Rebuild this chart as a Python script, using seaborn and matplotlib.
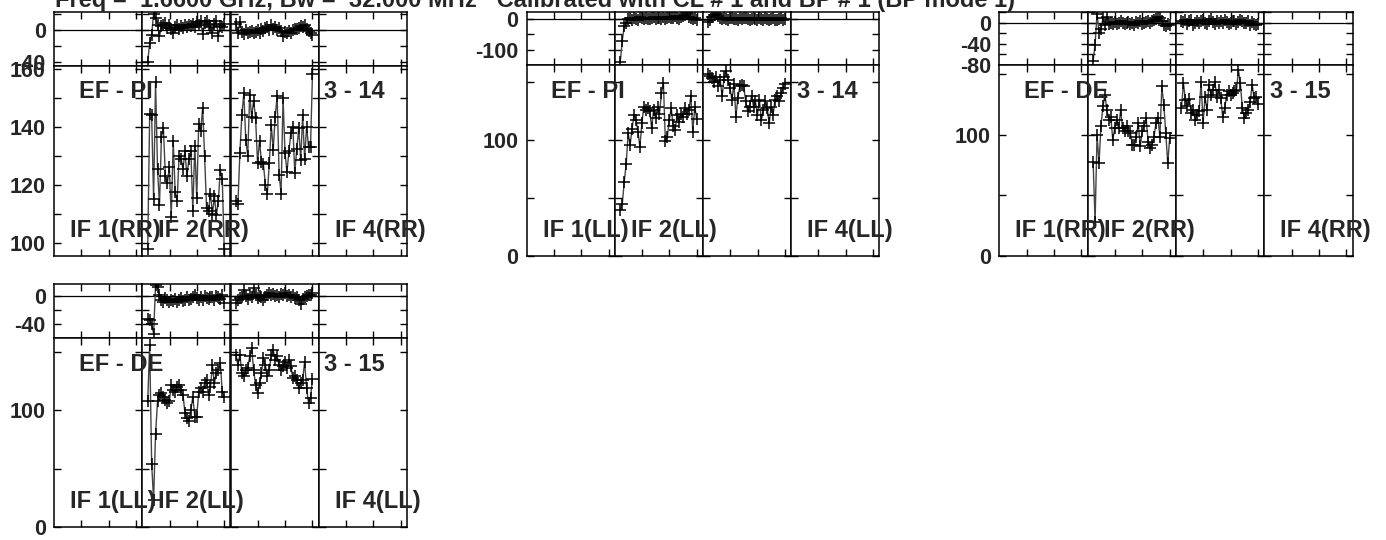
import numpy as np
import matplotlib
matplotlib.use("Agg")
import matplotlib.pyplot as plt
import seaborn as sns
from matplotlib.ticker import MultipleLocator, FixedLocator, FuncFormatter

# ---------------- data ----------------
title = "Freq =  1.6600 GHz, Bw =  32.000 MHz   Calibrated with CL # 1 and BP # 1 (BP mode 1)"
if_names = ["IF 1", "IF 2", "IF 3", "IF 4"]
channels = np.linspace(4, 60, 40)

# EF - PI, RR (3 - 14)
pi_rr_if2_amp = [98, 144.5, 144, 115, 155.5, 125.5, 113, 136.5, 139.5, 123, 120.5, 126, 109, 135, 117.5, 114.5,
                 130, 129, 125.5, 131.5, 123, 129, 131.5, 111, 133.5, 115.5, 141, 138.5, 146.5, 130, 112, 111,
                 117, 110, 116, 109.5, 114.5, 125, 122, 98]
pi_rr_if3_amp = [114.5, 113.5, 131, 144, 151.5, 135.5, 130, 151, 143.5, 149, 143, 127.5, 135, 128, 127, 120,
                 117, 127.5, 140.5, 132, 143.5, 150.5, 123.5, 117, 150, 131, 124.5, 131.5, 138, 140, 124, 132.5,
                 139.5, 128.5, 144, 129, 140, 133, 133, 158]
pi_rr_if2_phs = [-40, -16, -6, 21, 15, 7, -8, 5, 7, 9, 3, 6, 2, -3, 4, 6, 1, 5, 3, 6, 4, 7, 5, 8, 4, 10, 6, 12,
                 -5, 9, 12, 7, 4, -3, 8, 11, -8, 5, 4, 8]
pi_rr_if3_phs = [8, -3, 10, -2, -5, 0, -4, -2, -1, -4, -2, 0, -3, 2, -1, 3, 4, 0, 6, 2, 4, 0, 3, -1, -7, -2,
                 -4, -1, -3, 0, 1, 2, 3, 5, 4, 6, 2, -1, -4, -6]

# EF - PI, LL (3 - 14)
pi_ll_if2_amp = [40, 45, 64, 79.5, 106, 96, 110, 122, 117.5, 107.5, 94.5, 114.5, 129, 126, 127.5, 125.5, 110.5,
                 126, 119, 129, 123, 140.5, 149.5, 99, 103, 117.5, 127.5, 112, 109, 122, 116, 123, 120.5, 127.5,
                 123, 126, 138, 107.5, 129, 118]
pi_ll_if3_amp = [157.5, 155.5, 153.5, 150.5, 154.5, 147, 152, 138, 155, 160, 152, 145, 135, 149, 120.5, 136.5,
                 146.5, 148, 146.5, 133.5, 125, 129, 138.5, 129, 133.5, 122, 135, 117.5, 126, 133.5, 127.5, 114.5,
                 129, 122, 135, 138, 133.5, 140.5, 145, 149]
pi_ll_if2_phs = [-137, -70, -25, -15, -2, 3, -4, 2, 0, -3, 4, 1, -2, 3, 0, -1, 2, 5, -2, 1, 3, 0, 4, -1, 2, 6,
                 1, 3, 7, 2, 0, 5, 8, 12, 17, 6, 3, -2, 1, -3]
pi_ll_if3_phs = [-10, -6, 5, 12, 16, 8, 2, -2, 3, 0, -3, 1, 2, -1, 0, -4, 2, -2, 1, 3, -1, -3, 0, 2, -2, -5, 1,
                 -1, -3, 2, 0, -4, -2, 1, -3, -6, -1, 2, -3, 0]

# EF - DE, RR (3 - 15)
de_rr_if2_amp = [78, 28, 100, 76.5, 107.5, 123.5, 133, 120.5, 112.5, 115, 96, 105.5, 112.5, 105.5, 120.5, 105.5,
                 103, 107.5, 103, 101.5, 91.5, 91.5, 98.5, 109.5, 90.5, 103, 107, 114, 94.5, 89, 91.5, 98.5,
                 109.5, 114, 98.5, 140, 125, 101.5, 76.5, 97.5]
de_rr_if3_amp = [122, 143, 129, 123.5, 129.5, 118, 120.5, 112.5, 116.5, 119.5, 144, 109.5, 131.5, 120.5, 141.5,
                 133, 137, 144, 131.5, 137.5, 130.5, 115, 122, 133, 136, 133, 134.5, 136, 137, 153.5, 142.5, 122,
                 114, 118, 120.5, 127.5, 141.5, 130.5, 131.5, 125.5]
de_rr_if2_phs = [-73, -42, 17, -20, -13, 8, -4, 11, -2, 0, -3, 1, -2, 0, 2, -1, -3, 0, 1, -2, 0, -4, 1, -1, 2,
                 -2, 0, 1, 3, -1, 2, 4, 6, 10, 8, 2, -5, -7, -2, -4]
de_rr_if3_phs = [3, 1, 5, -2, 2, 4, -4, 0, 3, -1, 2, 5, 0, -3, 2, 6, 1, -2, 3, 0, 2, -1, 4, 1, -3, 0, 2, 3, -2,
                 1, 4, 2, 0, -1, 3, -4, 1, -2, -5, -3]

# EF - DE, LL (3 - 15)
de_ll_if2_amp = [107.5, 156, 54.5, 23.5, 80, 107.5, 113, 115, 111.5, 109, 106, 107.5, 121.5, 117.5, 116, 120,
                 121.5, 117.5, 113, 97.5, 93, 90.5, 100.5, 111.5, 94.5, 94.5, 116, 119, 116, 123, 126, 113, 120,
                 138.5, 123, 131.5, 134.5, 140, 116, 111.5]
de_ll_if3_amp = [147.5, 138.5, 147.5, 131.5, 129, 134.5, 136, 146, 153, 134.5, 121.5, 114.5, 123, 131.5, 144.5,
                 138.5, 129, 134.5, 147.5, 151.5, 143, 146, 138.5, 134.5, 137.5, 141.5, 136, 143, 137.5, 127.5,
                 129, 126, 119, 123, 126, 141.5, 119, 106, 110.5, 127]
de_ll_if2_phs = [-33, -34, -40, -53, 15, 12, 2, -5, -8, -3, -6, -9, -5, -7, -4, -8, -6, -3, -7, -5, -2, -6, -4,
                 -1, 2, -3, -5, -2, -6, 0, -3, -4, -1, -2, -5, 0, -2, -4, 1, -10]
de_ll_if3_phs = [-10, -6, -3, -1, 9, 0, -4, 2, -2, 11, 1, -3, 0, -2, -5, -1, 2, 4, 1, 3, 0, 2, -1, 3, 1, 4, 0,
                 2, -2, 1, -3, -1, -6, -12, -4, -1, 0, 2, 1, 4]

# ---------------- style ----------------
W, H, DPI = 1386, 540, 100
sns.set_style("ticks")
plt.rcParams['font.family'] = ['Liberation Sans', 'DejaVu Sans']
plt.rcParams['font.weight'] = 'bold'

fig = plt.figure(figsize=(W / DPI, H / DPI), dpi=DPI)
fig.patch.set_facecolor('white')

FS_TXT = 17
FS_TICK = 15.5


def fx(px):
    return px / W


def fy(py):
    return 1 - py / H


def labfmt(step):
    def f(v, pos):
        r = round(v)
        if abs(v - r) < 1e-6 and r % step == 0:
            return "%d" % r
        return ""
    return FuncFormatter(f)


def style_axis(ax, ylim, tick_step, lab_step, first, zero_line=False):
    ax.set_xlim(0, 64.6)
    ax.set_ylim(*ylim)
    ax.xaxis.set_major_locator(FixedLocator([20, 40, 60]))
    ax.yaxis.set_major_locator(MultipleLocator(tick_step))
    ax.yaxis.set_major_formatter(labfmt(lab_step))
    ax.tick_params(which='both', direction='in', left=True, right=True, top=True, bottom=True,
                   length=5, width=1, color='black', labelbottom=False, labelleft=first,
                   labelsize=FS_TICK, pad=6)
    for s in ax.spines.values():
        s.set_color('black')
        s.set_linewidth(1.1)
    ax.set_facecolor('white')
    ax.set_xlabel('')
    ax.set_ylabel('')
    for t in ax.get_yticklabels():
        t.set_fontweight('bold')
    if zero_line:
        ax.axhline(0, color='black', lw=0.9, zorder=1)


def draw_series(ax, vals):
    sns.lineplot(x=channels, y=vals, ax=ax, color='#444444', lw=1.0, marker='+', markersize=8.5,
                 markeredgecolor='black', markeredgewidth=1.1, estimator=None, sort=False,
                 legend=False, zorder=3)


panels = [
    dict(box=(54, 407, 12, 65.7, 256), plim=(-45, 23), pstep=20, plab=40,
         alim=(95.5, 161), astep=10, alab=20, pol='RR', base='EF - PI', ident='3 - 14',
         amp=[pi_rr_if2_amp, pi_rr_if3_amp], phs=[pi_rr_if2_phs, pi_rr_if3_phs]),
    dict(box=(526.7, 879.3, 12, 65, 256), plim=(-148, 21), pstep=50, plab=100,
         alim=(0, 165), astep=50, alab=100, pol='LL', base='EF - PI', ident='3 - 14',
         amp=[pi_ll_if2_amp, pi_ll_if3_amp], phs=[pi_ll_if2_phs, pi_ll_if3_phs]),
    dict(box=(999.3, 1352.7, 12, 64.7, 256), plim=(-80, 20), pstep=20, plab=40,
         alim=(0, 158), astep=50, alab=100, pol='RR', base='EF - DE', ident='3 - 15',
         amp=[de_rr_if2_amp, de_rr_if3_amp], phs=[de_rr_if2_phs, de_rr_if3_phs]),
    dict(box=(54, 407, 284.3, 338.3, 527.3), plim=(-59.7, 16.5), pstep=20, plab=40,
         alim=(0, 161.5), astep=50, alab=100, pol='LL', base='EF - DE', ident='3 - 15',
         amp=[de_ll_if2_amp, de_ll_if3_amp], phs=[de_ll_if2_phs, de_ll_if3_phs]),
]

for p in panels:
    left, right, top, mid, bottom = p['box']
    w = (right - left) / 4
    for k in range(4):
        x0 = left + k * w
        axp = fig.add_axes([fx(x0), fy(mid), w / W, (mid - top) / H])
        axa = fig.add_axes([fx(x0), fy(bottom), w / W, (bottom - mid) / H])
        if k in (1, 2):
            draw_series(axp, p['phs'][k - 1])
            draw_series(axa, p['amp'][k - 1])
        style_axis(axp, p['plim'], p['pstep'], p['plab'], k == 0, zero_line=True)
        style_axis(axa, p['alim'], p['astep'], p['alab'], k == 0)
        if k != 2:
            fig.text(fx(x0 + 16), fy(bottom - 25.5), "%s(%s)" % (if_names[k], p['pol']),
                     ha='left', va='center', fontsize=FS_TXT, fontweight='bold', zorder=10)
    fig.text(fx(left + 24.7), fy(top + 80), p['base'], ha='left', va='center',
             fontsize=FS_TXT, fontweight='bold', zorder=10)
    fig.text(fx(left + 3 * w + 5.7), fy(top + 80), p['ident'], ha='left', va='center',
             fontsize=FS_TXT, fontweight='bold', zorder=10)

fig.text(fx(55), fy(7), title, ha='left', va='baseline', fontsize=FS_TXT, fontweight='bold')

fig.savefig("out.png", dpi=DPI, facecolor='white')
